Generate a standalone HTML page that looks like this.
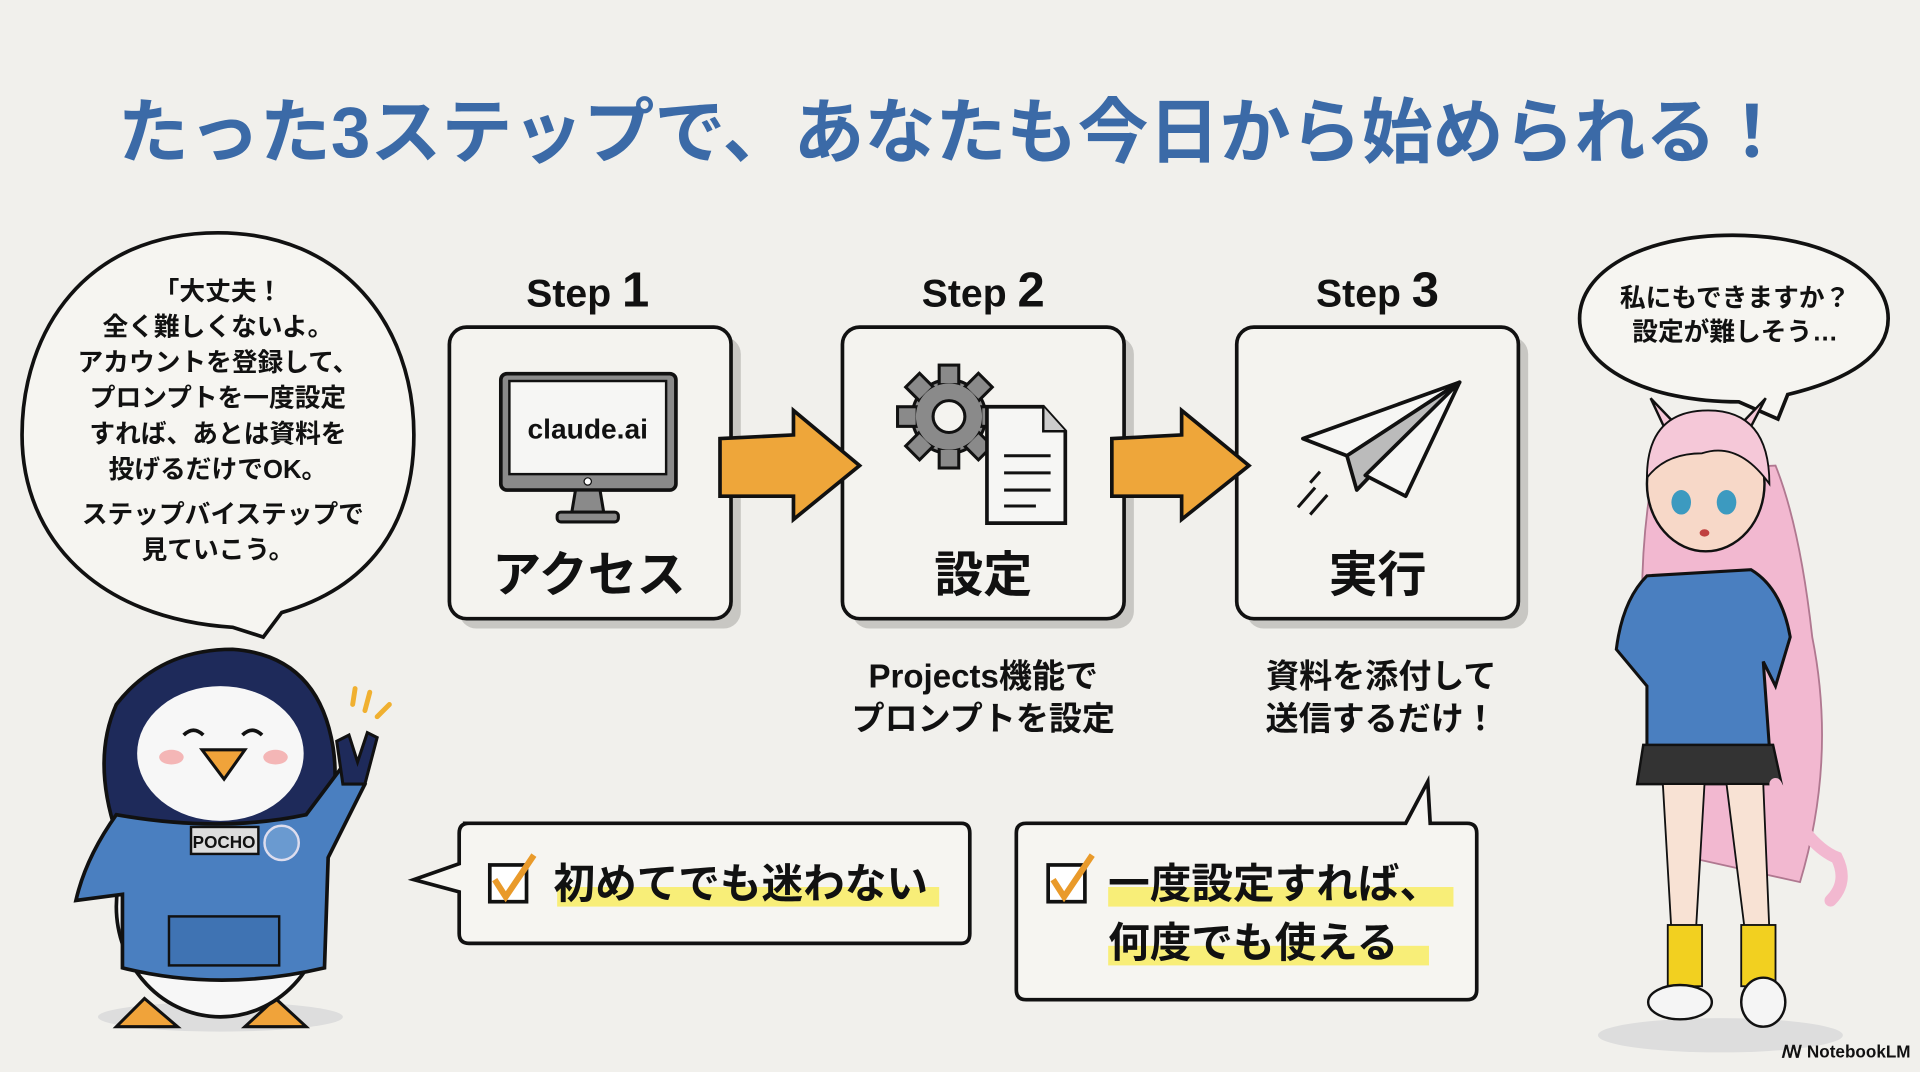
<!DOCTYPE html>
<html><head><meta charset="utf-8"><style>
html,body{margin:0;padding:0;background:#f1f0ec;}
svg{display:block;}
text{font-family:"Liberation Sans","Noto Sans CJK JP",sans-serif;font-weight:bold;}
</style></head><body>
<svg width="1920" height="1072" viewBox="0 0 1568 875" preserveAspectRatio="none" xmlns="http://www.w3.org/2000/svg">
<rect width="1568" height="875" fill="#f1f0ec"/>
<text x="778" y="128" font-size="58" fill="#3b6aa7" text-anchor="middle">たった3ステップで、あなたも今日から始められる！</text>

<path d="M178,190 C70,190 18,270 18,355 C18,440 80,505 190,512 L215,520 L230,500 C300,480 338,430 338,355 C338,265 280,190 178,190 Z" fill="#f6f5f1" stroke="#111" stroke-width="3"/>
<g font-size="21" fill="#111" text-anchor="middle">
<text x="178" y="245">「大丈夫！</text>
<text x="178" y="274">全く難しくないよ。</text>
<text x="178" y="303">アカウントを登録して、</text>
<text x="178" y="332">プロンプトを一度設定</text>
<text x="178" y="361">すれば、あとは資料を</text>
<text x="178" y="390">投げるだけでOK。</text>
<text x="182" y="427">ステップバイステップで</text>
<text x="178" y="456">見ていこう。</text>
</g>

<g font-size="32" fill="#111" text-anchor="middle">
<text x="480" y="250">Step <tspan font-size="40">1</tspan></text>
<text x="803" y="250">Step <tspan font-size="40">2</tspan></text>
<text x="1125" y="250">Step <tspan font-size="40">3</tspan></text>
</g>
<g>
<rect x="375" y="275" width="230" height="238" rx="14" fill="#c8c7c3"/>
<rect x="696" y="275" width="230" height="238" rx="14" fill="#c8c7c3"/>
<rect x="1018" y="275" width="230" height="238" rx="14" fill="#c8c7c3"/>
<rect x="367" y="267" width="230" height="238" rx="14" fill="#f4f3ef" stroke="#111" stroke-width="3"/>
<rect x="688" y="267" width="230" height="238" rx="14" fill="#f4f3ef" stroke="#111" stroke-width="3"/>
<rect x="1010" y="267" width="230" height="238" rx="14" fill="#f4f3ef" stroke="#111" stroke-width="3"/>
</g>
<path d="M588,358 L648,355 L648,335 L702,380 L648,424 L648,405 L588,405 Z" fill="#eea63a" stroke="#111" stroke-width="3"/>
<path d="M908,358 L965,355 L965,335 L1020,380 L965,424 L965,405 L908,405 Z" fill="#eea63a" stroke="#111" stroke-width="3"/>
<rect x="409" y="305" width="143" height="95" rx="5" fill="#8a8a8a" stroke="#111" stroke-width="3"/>
<rect x="416" y="311" width="128" height="76" fill="#f6f6f4" stroke="#111" stroke-width="2"/>
<circle cx="480" cy="393" r="3" fill="#fff" stroke="#111"/>
<path d="M470,400 L490,400 L493,418 L467,418 Z" fill="#8a8a8a" stroke="#111" stroke-width="2.5"/>
<rect x="455" y="418" width="50" height="8" rx="3" fill="#8a8a8a" stroke="#111" stroke-width="2.5"/>
<text x="480" y="358" font-size="23" fill="#111" text-anchor="middle">claude.ai</text>
<g transform="translate(775,340)">
<g fill="#8a8a8a" stroke="#111" stroke-width="2.5">
<circle r="30"/>
<rect x="-8" y="-42" width="16" height="16"/>
<rect x="-8" y="26" width="16" height="16"/>
<rect x="-42" y="-8" width="16" height="16"/>
<rect x="26" y="-8" width="16" height="16"/>
<rect x="-8" y="-42" width="16" height="16" transform="rotate(45)"/>
<rect x="-8" y="26" width="16" height="16" transform="rotate(45)"/>
<rect x="-42" y="-8" width="16" height="16" transform="rotate(45)"/>
<rect x="26" y="-8" width="16" height="16" transform="rotate(45)"/>
<circle r="27" stroke="none"/>
</g>
<circle r="13" fill="#f4f3ef" stroke="#111" stroke-width="2.5"/>
</g>
<path d="M806,332 L852,332 L870,352 L870,427 L806,427 Z" fill="#f6f6f4" stroke="#111" stroke-width="3"/>
<path d="M852,332 L852,352 L870,352" fill="#ccc" stroke="#111" stroke-width="2"/>
<g stroke="#111" stroke-width="2.5"><line x1="820" y1="372" x2="858" y2="372"/><line x1="820" y1="386" x2="858" y2="386"/><line x1="820" y1="400" x2="858" y2="400"/><line x1="820" y1="413" x2="846" y2="413"/></g>
<path d="M1192,312 L1064,358 L1100,372 Z" fill="#f6f6f4" stroke="#111" stroke-width="3" stroke-linejoin="round"/>
<path d="M1192,312 L1100,372 L1108,400 Z" fill="#bbb" stroke="#111" stroke-width="3" stroke-linejoin="round"/>
<path d="M1192,312 L1115,388 L1148,405 Z" fill="#f6f6f4" stroke="#111" stroke-width="3" stroke-linejoin="round"/>
<g stroke="#111" stroke-width="2.5"><line x1="1074" y1="398" x2="1060" y2="414"/><line x1="1084" y1="404" x2="1070" y2="420"/><line x1="1078" y1="385" x2="1070" y2="394"/></g>
<g font-size="40" fill="#111" text-anchor="middle">
<text x="481" y="483">アクセス</text>
<text x="803" y="483">設定</text>
<text x="1125" y="483">実行</text>
</g>
<g font-size="27" fill="#111" text-anchor="middle">
<text x="803" y="561">Projects機能で</text>
<text x="803" y="596">プロンプトを設定</text>
<text x="1128" y="561">資料を添付して</text>
<text x="1128" y="596">送信するだけ！</text>
</g>

<path d="M1415,192 C1340,192 1290,222 1290,260 C1290,300 1345,328 1420,328 L1452,342 L1460,322 C1510,310 1542,290 1542,260 C1542,222 1490,192 1415,192 Z" fill="#f6f5f1" stroke="#111" stroke-width="3"/>
<g font-size="21" fill="#111" text-anchor="middle"><text x="1417" y="250">私にもできますか？</text><text x="1417" y="278">設定が難しそう…</text></g>

<path d="M378,672 L785,672 Q792,672 792,680 L792,762 Q792,770 785,770 L383,770 Q375,770 375,762 L375,728 L338,718 L375,705 L375,680 Q375,672 383,672 Z" fill="#f6f5f1" stroke="#111" stroke-width="3"/>
<rect x="455" y="724" width="312" height="16" fill="#f8ee78"/>
<rect x="400" y="706" width="30" height="30" fill="#fff" stroke="#111" stroke-width="3"/>
<path d="M404,718 L413,732 L436,698" fill="none" stroke="#e99a2a" stroke-width="5"/>
<text x="452" y="733" font-size="34" fill="#111">初めてでも迷わない</text>

<path d="M838,672 L1148,672 L1166,638 L1168,672 L1198,672 Q1206,672 1206,680 L1206,808 Q1206,816 1198,816 L838,816 Q830,816 830,808 L830,680 Q830,672 838,672 Z" fill="#f6f5f1" stroke="#111" stroke-width="3"/>
<rect x="905" y="724" width="282" height="16" fill="#f8ee78"/>
<rect x="905" y="772" width="262" height="16" fill="#f8ee78"/>
<rect x="856" y="706" width="30" height="30" fill="#fff" stroke="#111" stroke-width="3"/>
<path d="M860,718 L869,732 L892,698" fill="none" stroke="#e99a2a" stroke-width="5"/>
<text x="905" y="733" font-size="34" fill="#111">一度設定すれば、</text>
<text x="905" y="781" font-size="34" fill="#111">何度でも使える</text>

<ellipse cx="180" cy="830" rx="100" ry="12" fill="#ddd"/>
<path d="M118,815 L95,838 L145,838 Z M225,815 L200,838 L250,838 Z" fill="#f0a33a" stroke="#111" stroke-width="2.5"/>
<ellipse cx="180" cy="740" rx="85" ry="90" fill="#f7f7f7" stroke="#111" stroke-width="3"/>
<path d="M95,680 Q75,620 95,575 Q130,530 190,530 Q260,535 272,610 Q278,650 262,690 Z" fill="#1e2a5a" stroke="#111" stroke-width="3"/>
<ellipse cx="180" cy="615" rx="68" ry="55" fill="#f7f7f7"/>
<path d="M150,600 q8,-8 16,0 M198,600 q8,-8 16,0" stroke="#111" stroke-width="3" fill="none"/>
<ellipse cx="140" cy="618" rx="10" ry="6" fill="#f4b6b6"/><ellipse cx="225" cy="618" rx="10" ry="6" fill="#f4b6b6"/>
<path d="M165,612 L200,612 L183,636 Z" fill="#f0a33a" stroke="#111" stroke-width="2.5"/>
<path d="M95,665 Q70,700 62,735 L100,730 L100,790 Q180,810 265,790 L268,700 L298,640 L280,625 L250,665 Q180,680 95,665 Z" fill="#4a7fc0" stroke="#111" stroke-width="3"/>
<rect x="138" y="748" width="90" height="40" fill="#3f73b3" stroke="#111" stroke-width="2"/>
<rect x="156" y="675" width="55" height="22" fill="#ddd" stroke="#111" stroke-width="2"/>
<text x="183" y="692" font-size="14" fill="#111" text-anchor="middle" font-weight="normal">POCHO</text>
<circle cx="230" cy="688" r="14" fill="#6a9ad0" stroke="#dde" stroke-width="2"/>
<path d="M280,640 L275,605 L285,600 L292,622 L300,598 L308,602 L298,640 Z" fill="#1e2a5a" stroke="#111" stroke-width="2.5"/>
<g stroke="#f0b030" stroke-width="4" stroke-linecap="round"><line x1="290" y1="562" x2="288" y2="575"/><line x1="302" y1="565" x2="298" y2="580"/><line x1="318" y1="575" x2="308" y2="585"/></g>

<ellipse cx="1405" cy="845" rx="100" ry="14" fill="#ddd"/>
<path d="M1350,385 Q1335,470 1345,560 Q1350,640 1380,700 L1470,720 Q1500,620 1480,520 Q1470,430 1450,380 Z" fill="#f2b8d0" stroke="#b07890" stroke-width="1.5"/>
<path d="M1348,325 L1362,355 L1370,348 Z M1442,325 L1428,352 L1420,348 Z" fill="#f5c8d8" stroke="#111" stroke-width="2"/>
<ellipse cx="1393" cy="395" rx="48" ry="55" fill="#f7d8c8" stroke="#111" stroke-width="2"/>
<path d="M1345,390 Q1345,335 1395,335 Q1445,335 1445,395 Q1420,360 1390,370 Q1360,370 1345,390 Z" fill="#f5c8d8" stroke="#111" stroke-width="1.5"/>
<ellipse cx="1373" cy="410" rx="8" ry="10" fill="#3c9ac0"/><ellipse cx="1410" cy="410" rx="8" ry="10" fill="#3c9ac0"/>
<ellipse cx="1392" cy="435" rx="4" ry="3" fill="#c04040"/>
<path d="M1345,470 Q1325,490 1320,530 L1345,560 L1345,610 L1445,610 L1440,540 L1450,560 L1462,520 Q1455,480 1430,465 Z" fill="#4a7fc0" stroke="#111" stroke-width="2.5"/>
<path d="M1342,608 L1448,608 L1455,640 L1337,640 Z" fill="#333" stroke="#111" stroke-width="2"/>
<path d="M1358,640 L1365,760 L1385,760 L1392,640 Z M1410,640 L1425,760 L1445,760 L1440,640 Z" fill="#f8e2d4" stroke="#111" stroke-width="1.5"/>
<rect x="1362" y="755" width="28" height="50" fill="#f2d020" stroke="#111" stroke-width="1.5"/>
<rect x="1422" y="755" width="28" height="50" fill="#f2d020" stroke="#111" stroke-width="1.5"/>
<ellipse cx="1372" cy="818" rx="26" ry="14" fill="#f5f5f5" stroke="#111" stroke-width="2"/>
<ellipse cx="1440" cy="818" rx="18" ry="20" fill="#f5f5f5" stroke="#111" stroke-width="2"/>
<path d="M1450,640 Q1475,690 1500,700 Q1510,720 1495,735" fill="none" stroke="#f2b8d0" stroke-width="10" stroke-linecap="round"/>

<text x="1455" y="863" font-size="14" fill="#111" font-weight="normal">ꟿ NotebookLM</text>
</svg>
</body></html>
